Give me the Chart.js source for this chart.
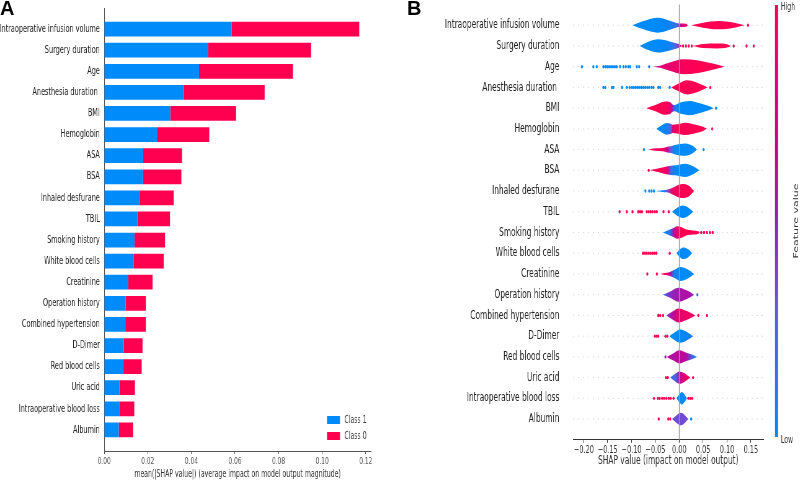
<!DOCTYPE html>
<html>
<head>
<meta charset="utf-8">
<script src="https://cdn.jsdelivr.net/npm/chart.js@4"></script>
<style>
body { margin: 0; background: #fff; width: 800px; height: 481px; overflow: hidden; position: relative; }
.panel { position: absolute; top: 0; transform: scaleX(0.62); transform-origin: 0 0; }
.tag { position: absolute; top: -2px; font: bold 20px "Liberation Sans", Arial, sans-serif; line-height: 20px; color: #000; }
</style>
</head>
<body>
<div class="panel" style="left:0"><canvas id="barChart" width="645" height="481"></canvas></div>
<div class="panel" style="left:400px"><canvas id="violinChart" width="645" height="481"></canvas></div>
<div class="tag" style="left:0">A</div>
<div class="tag" style="left:407px">B</div>
<script>
const features = ["Intraoperative infusion volume", "Surgery duration", "Age", "Anesthesia duration ", "BMI",
    "Hemoglobin", "ASA", "BSA", "Inhaled desfurane", "TBIL", "Smoking history", "White blood cells",
    "Creatinine", "Operation history", "Combined hypertension", "D-Dimer", "Red blood cells", "Uric acid",
    "Intraoperative blood loss", "Albumin"];

// panel A: mean |SHAP| per class
const class1 = [0.0585, 0.0476, 0.0435, 0.0366, 0.0303, 0.0242, 0.0179, 0.0178, 0.0161, 0.0152,
    0.0139, 0.0136, 0.0110, 0.0098, 0.0097, 0.0090, 0.0087, 0.0070, 0.0069, 0.0067];
const class0 = [0.0585, 0.0473, 0.0431, 0.0370, 0.0302, 0.0240, 0.0178, 0.0176, 0.0158, 0.0150,
    0.0140, 0.0137, 0.0112, 0.0093, 0.0094, 0.0086, 0.0085, 0.0071, 0.0069, 0.0066];

// panel B: violin outlines, one list of segments per feature, knots are [shap, half width, feature value 0..1]
const violinKnots = [
    [[[-0.098, 0, 0], [-0.075, 0.2, 0], [-0.045, 0.36, 0], [-0.02, 0.22, 0.05], [-0.004, 0.1, 0.2], [0.003, 0.08, 0.7], [0.014, 0.07, 0.9], [0.018, 0, 1]],
     [[0.025, 0, 1], [0.05, 0.12, 1], [0.082, 0.2, 1], [0.115, 0.12, 1], [0.137, 0, 1]]],
    [[[-0.083, 0, 0], [-0.065, 0.2, 0], [-0.044, 0.32, 0], [-0.02, 0.22, 0.05], [-0.005, 0.12, 0.3], [0.0, 0.08, 0.6], [0.006, 0, 0.8]],
     [[0.028, 0, 1], [0.05, 0.1, 1], [0.08, 0.12, 1], [0.1, 0.08, 1], [0.108, 0, 1]]],
    [[[-0.055, 0, 0.6], [-0.04, 0.05, 0.8], [-0.02, 0.2, 0.85], [0.008, 0.36, 0.95], [0.04, 0.3, 1], [0.07, 0.15, 1], [0.095, 0, 1]]],
    [[[-0.017, 0, 0.95], [0.0, 0.2, 1], [0.016, 0.34, 1], [0.035, 0.25, 1], [0.05, 0.1, 1], [0.059, 0, 1]]],
    [[[-0.069, 0, 1], [-0.05, 0.15, 1], [-0.03, 0.32, 1], [-0.02, 0.3, 0.9], [-0.014, 0.18, 0.5], [-0.01, 0.15, 0.1], [0.0, 0.25, 0], [0.022, 0.34, 0], [0.045, 0.22, 0], [0.062, 0.1, 0], [0.072, 0, 0]]],
    [[[-0.048, 0, 0], [-0.035, 0.2, 0], [-0.026, 0.28, 0.05], [-0.017, 0.24, 0.3], [-0.014, 0.2, 0.8], [-0.005, 0.22, 1], [0.013, 0.3, 1], [0.035, 0.2, 1], [0.05, 0.1, 1], [0.058, 0, 1]]],
    [[[-0.065, 0, 1], [-0.05, 0.06, 1], [-0.035, 0.08, 0.95], [-0.025, 0.14, 0.7], [-0.018, 0.16, 0.3], [-0.01, 0.22, 0], [0.013, 0.3, 0], [0.028, 0.18, 0], [0.037, 0, 0]]],
    [[[-0.061, 0, 1], [-0.05, 0.06, 1], [-0.035, 0.14, 1], [-0.024, 0.2, 0.8], [-0.018, 0.22, 0.2], [-0.008, 0.24, 0], [0.012, 0.32, 0], [0.03, 0.18, 0], [0.042, 0, 0]]],
    [[[-0.05, 0, 0], [-0.035, 0.04, 0], [-0.026, 0.06, 0.3], [-0.015, 0.15, 0.9], [0.006, 0.34, 1], [0.02, 0.26, 1], [0.031, 0, 1]]],
    [[[-0.015, 0, 0], [-0.005, 0.18, 0], [0.008, 0.3, 0], [0.02, 0.18, 0], [0.029, 0, 0]]],
    [[[-0.034, 0, 0], [-0.02, 0.15, 0.1], [-0.012, 0.22, 0.6], [-0.005, 0.3, 0.85], [0.005, 0.25, 1], [0.015, 0.14, 1], [0.028, 0.1, 1], [0.04, 0.06, 1], [0.043, 0, 1]]],
    [[[-0.006, 0, 0], [0.002, 0.2, 0], [0.008, 0.28, 0], [0.018, 0.2, 0], [0.027, 0, 0]]],
    [[[-0.04, 0, 1], [-0.03, 0.05, 1], [-0.021, 0.08, 0.7], [-0.01, 0.2, 0.05], [0.002, 0.34, 0], [0.018, 0.22, 0], [0.031, 0, 0]]],
    [[[-0.034, 0, 0.1], [-0.02, 0.14, 0.45], [-0.002, 0.34, 0.55], [0.015, 0.22, 0.6], [0.025, 0.1, 0.55], [0.031, 0, 0.5]]],
    [[[-0.027, 0, 0.4], [-0.015, 0.18, 0.6], [-0.002, 0.34, 0.85], [0.015, 0.22, 0.9], [0.034, 0, 0.9]]],
    [[[-0.021, 0, 0], [-0.01, 0.18, 0], [0.002, 0.32, 0], [0.016, 0.2, 0.05], [0.029, 0, 0.1]]],
    [[[-0.026, 0, 0.6], [-0.012, 0.18, 0.6], [0.0, 0.32, 0.65], [0.015, 0.2, 0.6], [0.028, 0.1, 0.2], [0.037, 0, 0]]],
    [[[-0.019, 0, 0.2], [-0.008, 0.2, 0.2], [0.0, 0.3, 0.6], [0.01, 0.22, 0.85], [0.023, 0, 1]]],
    [[[-0.006, 0, 0], [0.0, 0.18, 0], [0.005, 0.3, 0], [0.012, 0.15, 0], [0.016, 0, 0]]],
    [[[-0.015, 0, 0.3], [-0.005, 0.2, 0.35], [0.004, 0.3, 0.35], [0.013, 0.15, 0.35], [0.019, 0, 0.3]]]
];

// panel B: single outlying points per feature, [shap, feature value]
const dotPoints = [
    [[0.144, 1]],
    [[0.008, 1], [0.014, 1], [0.020, 1], [0.026, 1], [0.114, 1], [0.141, 1], [0.156, 1]],
    [-0.204, -0.180, -0.173, -0.159, -0.155, -0.151, -0.147, -0.143, -0.139, -0.135, -0.131, -0.124, -0.117, -0.112, -0.107, -0.103, -0.089, -0.084, -0.063].map(v => [v, 0]),
    [-0.159, -0.155, -0.141, -0.138, -0.120, -0.110, -0.104, -0.099, -0.095, -0.091, -0.087, -0.083, -0.079, -0.075, -0.071, -0.067, -0.063, -0.058, -0.054, -0.044, -0.040, -0.020].map(v => [v, 0]).concat([[0.065, 1]]),
    [[0.077, 0]],
    [[0.069, 1]],
    [[-0.074, 0], [0.051, 0]],
    [[-0.064, 1]],
    [[-0.071, 0], [-0.063, 0], [-0.058, 0], [-0.053, 0]],
    [-0.125, -0.110, -0.098, -0.086, -0.082, -0.078, -0.068, -0.064, -0.060, -0.056, -0.051, -0.047, -0.033, -0.022].map(v => [v, 1]),
    [0.046, 0.052, 0.058, 0.064, 0.070].map(v => [v, 1]),
    [-0.076, -0.072, -0.068, -0.064, -0.060, -0.056, -0.052, -0.048, -0.020].map(v => [v, 1]),
    [[-0.067, 1], [-0.047, 1]],
    [[0.038, 0.2]],
    [[-0.044, 1], [-0.040, 1], [-0.034, 1], [0.040, 1], [0.058, 1]],
    [-0.051, -0.047, -0.044, -0.029, -0.025].map(v => [v, 1]),
    [[-0.029, 0.6]],
    [[-0.028, 1], [-0.024, 1], [0.029, 1]],
    [-0.053, -0.045, -0.041, -0.036, -0.032, -0.027, -0.022, -0.018, -0.012, 0.019, 0.023, 0.027].map(v => [v, 1]),
    [[-0.043, 1], [-0.023, 1], [-0.019, 1], [0.025, 0]]
];

const font = "DejaVu Sans";
const blue = "#008bfb";
const pink = "#ff0051";
// blue -> purple -> red, like the shap colour map
const colourStops = [[0, [0, 138, 250]], [0.3, [100, 90, 220]], [0.5, [150, 30, 185]], [0.7, [205, 0, 140]], [1, [255, 0, 82]]];

function colourAt(t) {
    for (let i = 1; i < colourStops.length; i++) {
        const [t1, c1] = colourStops[i];
        const [t0, c0] = colourStops[i - 1];
        if (t <= t1) {
            const f = (t - t0) / (t1 - t0);
            const c = c0.map((v, k) => Math.round(v + (c1[k] - v) * f));
            return `rgb(${c.join(",")})`;
        }
    }
    return `rgb(${colourStops[colourStops.length - 1][1].join(",")})`;
}

function segmentGradient(chart, knots) {
    const x = chart.scales.x;
    if (!x || !chart.chartArea) return colourAt(knots[2][2]);
    const p0 = x.getPixelForValue(knots[0][0]);
    const p1 = x.getPixelForValue(knots[knots.length - 1][0]);
    if (!isFinite(p0) || !isFinite(p1) || p1 <= p0) return colourAt(knots[2][2]);
    const g = chart.ctx.createLinearGradient(p0, 0, p1, 0);
    knots.forEach(k => g.addColorStop(Math.min(1, Math.max(0, (x.getPixelForValue(k[0]) - p0) / (p1 - p0))), colourAt(k[2])));
    return g;
}

const legendInside = {
    id: "legendInside",
    afterDraw(chart) {
        const {ctx, chartArea} = chart;
        ctx.save();
        ctx.font = `10px ${font}`;
        ctx.textBaseline = "middle";
        chart.data.datasets.forEach((ds, i) => {
            const y = chartArea.bottom - 35 + i * 16;
            ctx.fillStyle = ds.backgroundColor;
            ctx.fillRect(chartArea.right - 71, y, 21, 8);
            ctx.fillStyle = "#333";
            ctx.fillText(ds.label, chartArea.right - 43, y + 4.5);
        });
        ctx.restore();
    }
};

// dotted guide line behind every feature row
const rowLines = {
    id: "rowLines",
    beforeDatasetsDraw(chart) {
        const {ctx, chartArea, scales: {y}} = chart;
        ctx.save();
        ctx.strokeStyle = "#d0d0d0";
        ctx.lineWidth = 0.8;
        ctx.setLineDash([2, 6]);
        features.forEach((f, i) => {
            const py = y.getPixelForValue(i);
            ctx.beginPath();
            ctx.moveTo(chartArea.left, py);
            ctx.lineTo(chartArea.right, py);
            ctx.stroke();
        });
        ctx.restore();
    }
};

// grey line at shap = 0, over the violins
const zeroLine = {
    id: "zeroLine",
    afterDatasetsDraw(chart) {
        const {ctx, chartArea, scales: {x}} = chart;
        const px = x.getPixelForValue(0);
        ctx.save();
        ctx.strokeStyle = "#999";
        ctx.lineWidth = 1.2;
        ctx.beginPath();
        ctx.moveTo(px, chartArea.top);
        ctx.lineTo(px, chartArea.bottom);
        ctx.stroke();
        ctx.restore();
    }
};

const colourBar = {
    id: "colourBar",
    afterDraw(chart) {
        const {ctx, chartArea} = chart;
        const left = chartArea.right + 18.5, top = 5, bottom = 437;
        const g = ctx.createLinearGradient(0, bottom, 0, top);
        colourStops.forEach(([t]) => g.addColorStop(t, colourAt(t)));
        ctx.save();
        ctx.fillStyle = g;
        ctx.fillRect(left, top, 5, bottom - top);
        ctx.fillStyle = "#333";
        ctx.font = `10px ${font}`;
        ctx.textBaseline = "middle";
        ctx.textAlign = "left";
        ctx.fillText("High", left + 9.5, top + 2);
        ctx.fillText("Low", left + 9.5, bottom + 3);
        ctx.translate(left + 34, (top + bottom) / 2);
        ctx.rotate(-Math.PI / 2);
        ctx.textAlign = "center";
        ctx.font = `11px ${font}`;
        ctx.fillText("Feature value", 0, 0);
        ctx.restore();
    }
};

function fixAxis(size) {
    return s => {
        if (s.isHorizontal()) s.height = size; else s.width = size;
        s.paddingTop = 0; s.paddingBottom = 0; s.paddingLeft = 0; s.paddingRight = 0;
    };
}

new Chart(document.getElementById("barChart"), {
    type: "bar",
    data: {
        datasets: [
            {label: "Class 1", backgroundColor: blue, data: class1.map((v, i) => ({x: v, y: i}))},
            {label: "Class 0", backgroundColor: pink, data: class0.map((v, i) => ({x: v, y: i}))}
        ]
    },
    options: {
        indexAxis: "y",
        responsive: false,
        animation: false,
        events: [],
        barPercentage: 0.7,
        categoryPercentage: 1,
        layout: {padding: {top: 8, right: 46.6, left: 0, bottom: 0}},
        plugins: {legend: {display: false}, tooltip: {enabled: false}},
        scales: {
            x: {
                type: "linear", stacked: true, min: 0, max: 0.1224,
                ticks: {stepSize: 0.02, includeBounds: false, callback: v => v.toFixed(2),
                    font: {family: font, size: 9.5}, color: "#555", padding: 2},
                grid: {drawOnChartArea: false, drawTicks: true, tickLength: 3, tickColor: "#555"},
                border: {color: "#555"},
                title: {display: true, text: "mean(|SHAP value|) (average impact on model output magnitude)",
                    font: {family: font, size: 10}, color: "#333", padding: {top: 0, bottom: 1}},
                afterFit: fixAxis(30)
            },
            y: {
                type: "linear", stacked: true, reverse: true, offset: false, min: -1, max: 20,
                ticks: {stepSize: 1, autoSkip: false, callback: v => features[v] ?? "",
                    font: {family: font, size: 10.5}, color: "#222", padding: 7},
                grid: {display: false, drawTicks: false, offset: false},
                border: {color: "#555"},
                afterFit: fixAxis(168)
            }
        }
    },
    plugins: [legendInside]
});

const edge = {borderWidth: 0, borderColor: "rgba(0,0,0,0)", pointRadius: 0, pointHoverRadius: 0, cubicInterpolationMode: "monotone"};
const violinSets = [];
violinKnots.forEach((segments, row) => {
    segments.forEach(knots => {
        violinSets.push({...edge, fill: false, data: knots.map(k => ({x: k[0], y: row - k[1]}))});
        violinSets.push({...edge, fill: "-1", backgroundColor: ctx => segmentGradient(ctx.chart, knots),
            data: knots.map(k => ({x: k[0], y: row + k[1]}))});
    });
});
const dots = [];
const dotColours = [];
dotPoints.forEach((list, row) => list.forEach(([v, c]) => {
    dots.push({x: v, y: row});
    dotColours.push(colourAt(c));
}));
violinSets.push({data: dots, showLine: false, fill: false, pointRadius: 1.7, pointBorderWidth: 0,
    pointBackgroundColor: dotColours, pointHoverRadius: 0});

new Chart(document.getElementById("violinChart"), {
    type: "line",
    data: {datasets: violinSets},
    options: {
        responsive: false,
        animation: false,
        events: [],
        layout: {padding: {top: 4.5, right: 58.7, left: 0, bottom: 0}},
        plugins: {legend: {display: false}, tooltip: {enabled: false}},
        scales: {
            x: {
                type: "linear", min: -0.2227, max: 0.1765,
                ticks: {stepSize: 0.05, includeBounds: false,
                    callback: v => (v < -1e-9 ? "\u2212" : "") + Math.abs(v).toFixed(2),
                    font: {family: font, size: 10.5}, color: "#333", padding: 1},
                grid: {drawOnChartArea: false, drawTicks: true, tickLength: 3, tickColor: "#333"},
                border: {color: "#333"},
                title: {display: true, text: "SHAP value (impact on model output)",
                    font: {family: font, size: 12}, color: "#333", padding: {top: 0, bottom: 12.8}},
                afterFit: fixAxis(41.2)
            },
            y: {
                type: "linear", reverse: true, min: -1, max: 20,
                ticks: {stepSize: 1, autoSkip: false, callback: v => features[v] ?? "",
                    font: {family: font, size: 12}, color: "#222", padding: 22},
                grid: {display: false, drawTicks: false},
                border: {display: false},
                afterFit: fixAxis(279)
            }
        }
    },
    plugins: [rowLines, zeroLine, colourBar]
});
</script>
</body>
</html>
